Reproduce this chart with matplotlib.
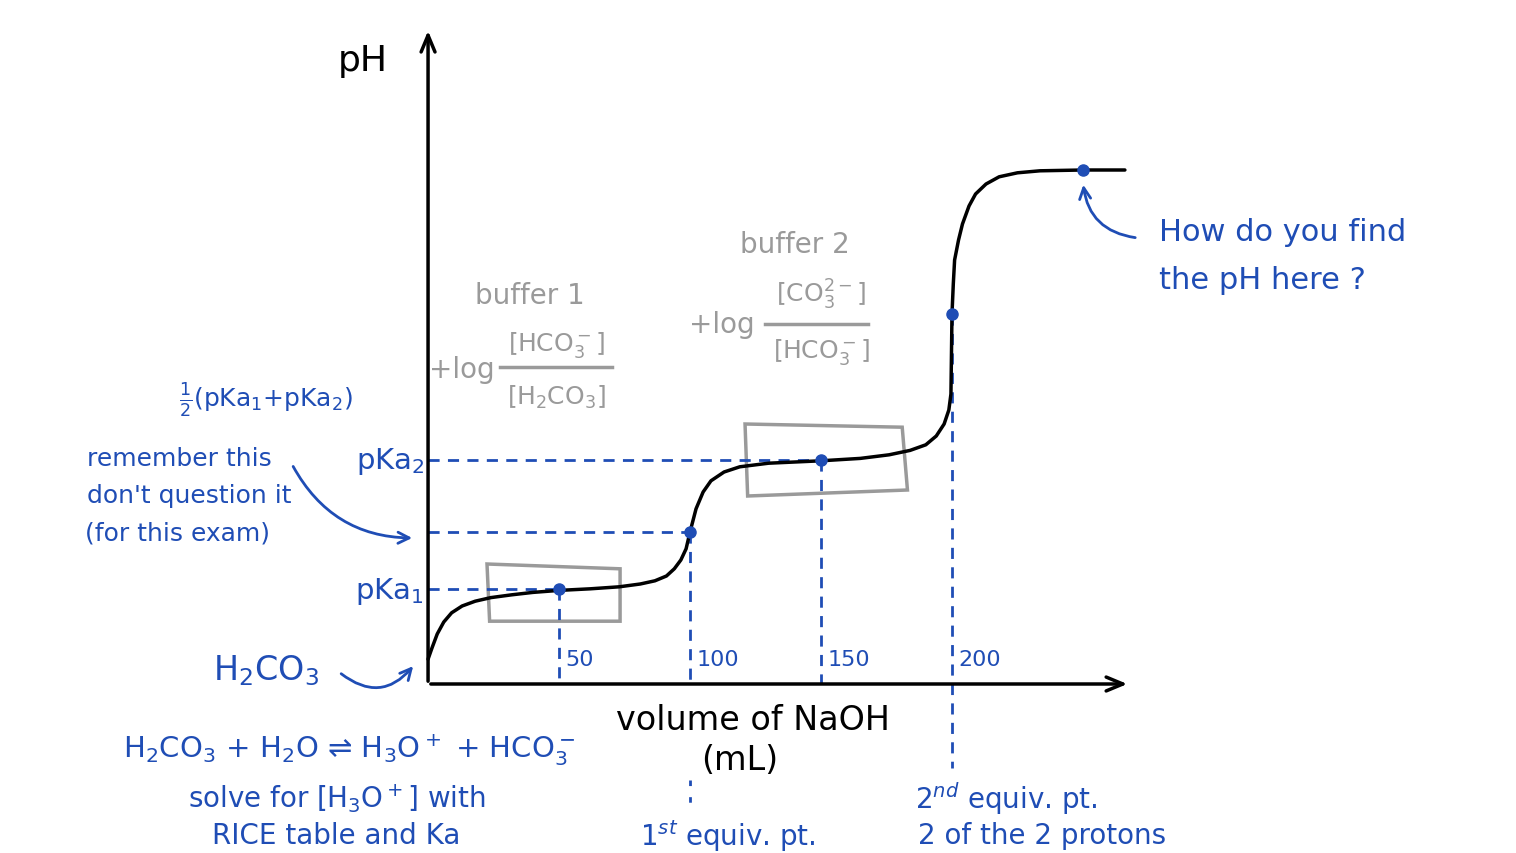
import numpy as np
import matplotlib
matplotlib.use("Agg")
import matplotlib.pyplot as plt
from matplotlib.patches import Polygon

# titration curve (volume NaOH in mL, pH in sketch units)
volume = [0, 1.5, 3.5, 6, 9, 13, 18, 24, 32, 40, 50, 62, 73, 81, 86.6, 91, 94, 96.5, 98.5, 100,
          102.3, 105, 108, 113, 119, 130, 150, 165, 176, 184, 190, 194, 197, 198.8,
          199.6, 200, 200.5, 201, 202.5, 204, 206.5, 209, 213, 218, 225, 233.6, 250, 266]
ph = [0.62, 0.9, 1.25, 1.55, 1.78, 1.95, 2.07, 2.16, 2.23, 2.29, 2.34, 2.38, 2.43, 2.5, 2.58,
      2.7, 2.88, 3.1, 3.38, 3.8,
      4.38, 4.8, 5.08, 5.3, 5.43, 5.52, 5.58, 5.64, 5.73, 5.84, 5.98, 6.2, 6.5, 6.85,
      7.25, 9.25, 10.0, 10.6, 11.1, 11.5, 11.95, 12.25, 12.5, 12.68, 12.78, 12.83, 12.85, 12.85]

half_eq_vol = [50, 150]
pka_vals = [2.38, 5.6]
equiv_vol = [100, 200]
equiv_ph = [3.8, 9.25]
final_vol, final_ph = 250, 12.85
tick_vals = [50, 100, 150, 200]
tick_labels = ["50", "100", "150", "200"]

BLUE = "#1f4db5"
GRAY = "#9a9a9a"
plt.rcParams['font.family'] = ['DejaVu Sans']

fig = plt.figure(figsize=(15.16, 8.54), dpi=100)
ax = fig.add_axes([0, 0, 1, 1])
ax.set_xlim(-163.4, 415.3)
ax.set_ylim(-4.225, 17.125)
ax.axis("off")

# axes with arrow heads
ax.annotate("", xy=(0, 16.4), xytext=(0, 0),
            arrowprops=dict(arrowstyle="->,head_width=0.5,head_length=1.2", lw=2.5, color="black"))
ax.annotate("", xy=(268, 0), xytext=(0, 0),
            arrowprops=dict(arrowstyle="->,head_width=0.5,head_length=1.2", lw=2.5, color="black"))
ax.text(-25, 15.6, "pH", fontsize=26, ha="center", va="center")
ax.text(124, -0.88, "volume of NaOH", fontsize=24, ha="center", va="center")
ax.text(119, -1.9, "(mL)", fontsize=24, ha="center", va="center")

# gray buffer boxes (slightly skewed like the sketch)
ax.add_patch(Polygon([(22.5, 3.0), (73.3, 2.88), (73.3, 1.57), (23.5, 1.57)],
                     closed=True, fill=False, ec=GRAY, lw=2.5))
ax.add_patch(Polygon([(121, 6.5), (181, 6.42), (183, 4.85), (122, 4.7)],
                     closed=True, fill=False, ec=GRAY, lw=2.5))

# dashed guide lines
dash = dict(color=BLUE, lw=2, ls=(0, (4, 3)))
for v, p in zip(half_eq_vol, pka_vals):
    ax.plot([0, v], [p, p], **dash)
    ax.plot([v, v], [p, 0], **dash)
ax.plot([0, equiv_vol[0]], [equiv_ph[0], equiv_ph[0]], **dash)
ax.plot([equiv_vol[0], equiv_vol[0]], [equiv_ph[0], 0], **dash)
ax.plot([equiv_vol[0], equiv_vol[0]], [-2.4, -3.2], color=BLUE, lw=2, ls=(0, (2, 4)))
ax.plot([equiv_vol[1], equiv_vol[1]], [equiv_ph[1], -2.1], **dash)

# curve and key points
ax.plot(volume, ph, color="black", lw=2.5, solid_capstyle="round", zorder=3)
ax.plot(half_eq_vol + equiv_vol + [final_vol], pka_vals + equiv_ph + [final_ph],
        "o", color=BLUE, ms=8, zorder=4)

for v, lab in zip(tick_vals, tick_labels):
    ax.text(v + 2.5, 0.62, lab, color=BLUE, fontsize=16, ha="left", va="center")

# left annotations
ax.text(-1.5, 5.58, "pKa$_2$", color=BLUE, fontsize=21, ha="right", va="center")
ax.text(-1.5, 2.33, "pKa$_1$", color=BLUE, fontsize=21, ha="right", va="center")
ax.text(-62, 7.12, r"$\frac{1}{2}$(pKa$_1$+pKa$_2$)", color=BLUE, fontsize=18,
        ha="center", va="center")
ax.text(-130, 5.65, "remember this", color=BLUE, fontsize=18, ha="left", va="center")
ax.text(-130, 4.72, "don't question it", color=BLUE, fontsize=18, ha="left", va="center")
ax.text(-131, 3.8, "(for this exam)", color=BLUE, fontsize=18, ha="left", va="center")
ax.annotate("", xy=(-5, 3.65), xytext=(-52, 5.5),
            arrowprops=dict(arrowstyle="->,head_width=0.4,head_length=0.8", lw=2,
                            color=BLUE, connectionstyle="arc3,rad=0.3"))
ax.text(-62, 0.35, "H$_2$CO$_3$", color=BLUE, fontsize=24, ha="center", va="center")
ax.annotate("", xy=(-5, 0.5), xytext=(-34, 0.3),
            arrowprops=dict(arrowstyle="->,head_width=0.4,head_length=0.8", lw=2,
                            color=BLUE, connectionstyle="arc3,rad=0.5"))

# buffer labels
ax.text(39, 9.73, "buffer 1", color=GRAY, fontsize=20, ha="center", va="center")
ax.text(13, 7.88, "+log", color=GRAY, fontsize=20, ha="center", va="center")
ax.text(49, 8.5, "[HCO$_3^-$]", color=GRAY, fontsize=18, ha="center", va="center")
ax.plot([27.5, 70.2], [7.93, 7.93], color=GRAY, lw=2.5)
ax.text(49, 7.2, "[H$_2$CO$_3$]", color=GRAY, fontsize=18, ha="center", va="center")

ax.text(140, 11.0, "buffer 2", color=GRAY, fontsize=20, ha="center", va="center")
ax.text(112, 9.0, "+log", color=GRAY, fontsize=20, ha="center", va="center")
ax.text(150, 9.75, "[CO$_3^{2-}$]", color=GRAY, fontsize=18, ha="center", va="center")
ax.plot([128.6, 167.9], [9.0, 9.0], color=GRAY, lw=2.5)
ax.text(150, 8.33, "[HCO$_3^-$]", color=GRAY, fontsize=18, ha="center", va="center")

# right annotation
ax.text(279, 11.32, "How do you find", color=BLUE, fontsize=22, ha="left", va="center")
ax.text(279, 10.12, "the pH here ?", color=BLUE, fontsize=22, ha="left", va="center")
ax.annotate("", xy=(final_vol, 12.55), xytext=(271, 11.15),
            arrowprops=dict(arrowstyle="->,head_width=0.4,head_length=0.8", lw=2,
                            color=BLUE, connectionstyle="arc3,rad=-0.4"))

# bottom notes
ax.text(-30, -1.62, "H$_2$CO$_3$ + H$_2$O ⇌ H$_3$O$^+$ + HCO$_3^-$", color=BLUE,
        fontsize=21, ha="center", va="center")
ax.text(-35, -2.85, "solve for [H$_3$O$^+$] with", color=BLUE, fontsize=20,
        ha="center", va="center")
ax.text(-35, -3.78, "RICE table and Ka", color=BLUE, fontsize=20, ha="center", va="center")
ax.text(81, -3.78, "1$^{st}$ equiv. pt.", color=BLUE, fontsize=20, ha="left", va="center")
ax.text(186, -2.85, "2$^{nd}$ equiv. pt.", color=BLUE, fontsize=20, ha="left", va="center")
ax.text(187, -3.78, "2 of the 2 protons", color=BLUE, fontsize=20, ha="left", va="center")

fig.savefig("out.png", dpi=100)
